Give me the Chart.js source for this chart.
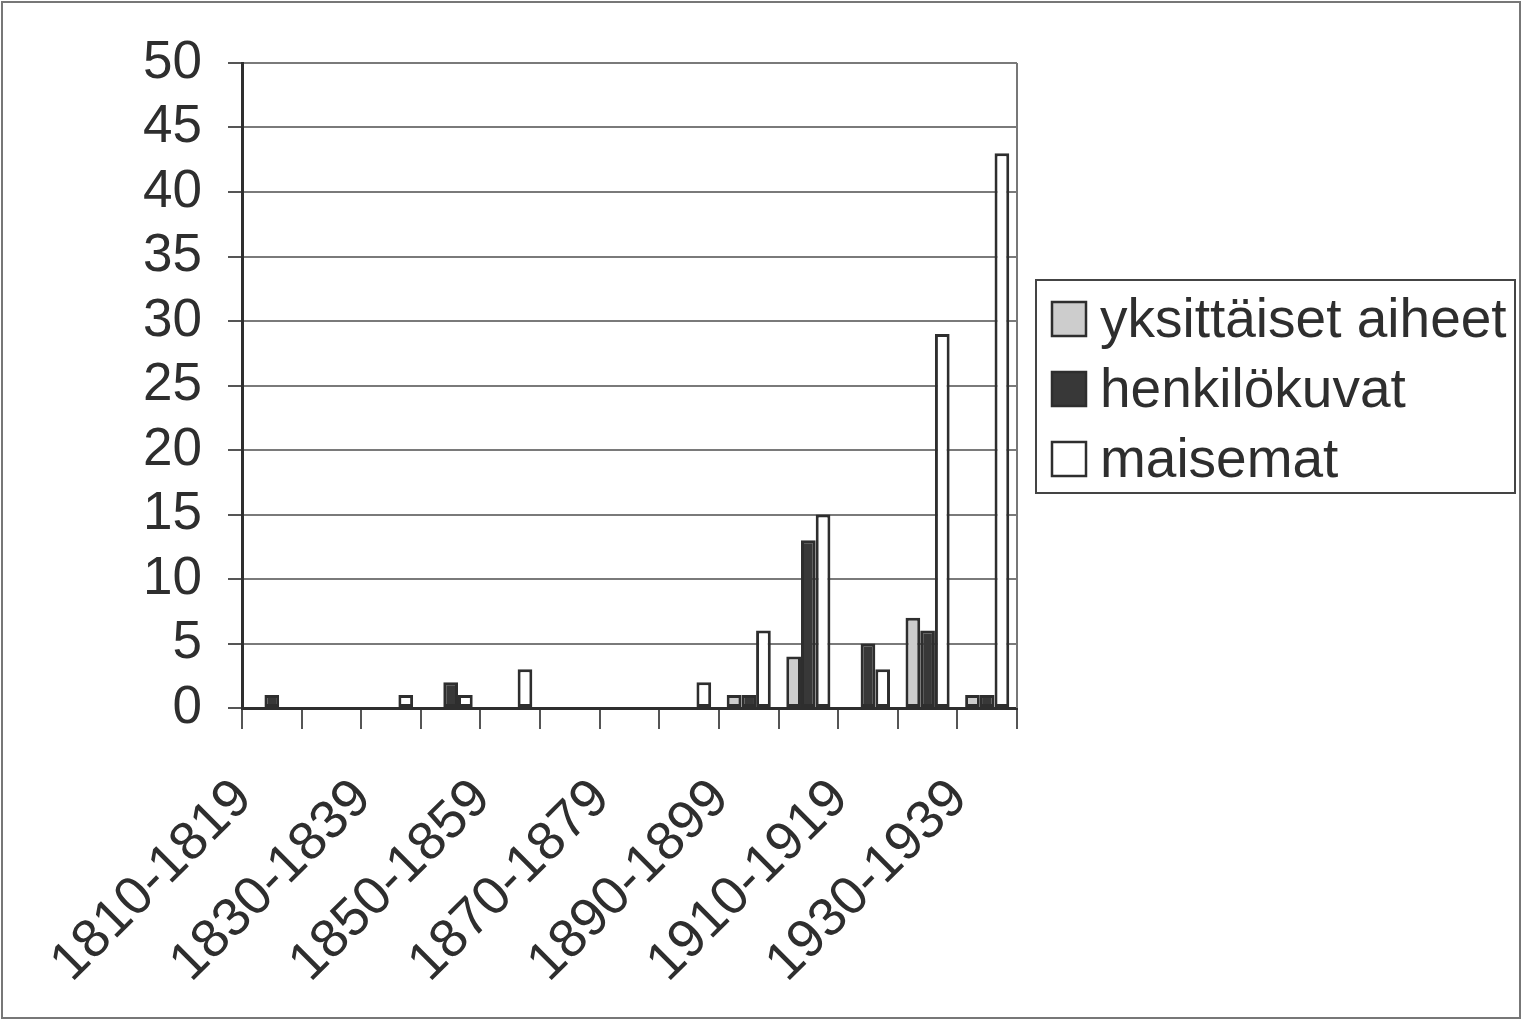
<!DOCTYPE html>
<html>
<head>
<meta charset="utf-8">
<script src="https://cdn.jsdelivr.net/npm/chart.js@4.4.1/dist/chart.umd.min.js"></script>
<style>
  body { margin: 0; background: #fff; }
  #chart { display: block; }
</style>
</head>
<body>
<canvas id="chart" width="1522" height="1020"></canvas>
<script>
var decades = ['1810-1819', '1820-1829', '1830-1839', '1840-1849', '1850-1859', '1860-1869', '1870-1879',
               '1880-1889', '1890-1899', '1900-1909', '1910-1919', '1920-1929', '1930-1939'];
var seriesNames = ['yksittäiset aiheet', 'henkilökuvat', 'maisemat'];
var yksittaiset = [0, 0, 0, 0, 0, 0, 0, 0, 1, 4, 0, 7, 1];
var henkilokuvat = [1, 0, 0, 2, 0, 0, 0, 0, 1, 13, 5, 6, 1];
var maisemat = [0, 0, 1, 1, 3, 0, 0, 2, 6, 15, 3, 29, 43];
var yMin = 0, yMax = 50, yStep = 5;

var ink = '#2e2e2e';
var font = '"Liberation Sans", Arial, Helvetica, sans-serif';

// frame round the picture, right edge of the plot, and the boxed legend
var framePlugin = {
    id: 'frame',
    afterDraw: function (chart) {
        var c = chart.ctx, a = chart.chartArea;
        c.save();
        c.strokeStyle = '#777';
        c.lineWidth = 2;
        c.strokeRect(2, 2, chart.width - 4, chart.height - 4);
        c.beginPath();
        c.moveTo(a.right, a.top);
        c.lineTo(a.right, a.bottom);
        c.stroke();

        // legend
        var lx = a.right + 19, ly = 280, lw = 479, lh = 213;
        c.strokeStyle = '#444';
        c.strokeRect(lx, ly, lw, lh);
        c.font = '55px ' + font;
        c.textBaseline = 'alphabetic';
        chart.data.datasets.forEach(function (ds, i) {
            var sy = ly + 22 + i * 70;
            c.fillStyle = ds.backgroundColor;
            c.fillRect(lx + 16, sy, 34, 34);
            c.strokeStyle = ds.borderColor;
            c.lineWidth = 2.5;
            c.strokeRect(lx + 16, sy, 34, 34);
            c.fillStyle = ink;
            c.fillText(ds.label, lx + 64, sy + 35);
        });
        c.restore();
    }
};

var ctx = document.getElementById('chart').getContext('2d');
var chart = new Chart(ctx, {
    type: 'bar',
    data: {
        labels: decades,
        datasets: [
            { label: seriesNames[0], data: yksittaiset, backgroundColor: '#cdcdcd', borderColor: ink },
            { label: seriesNames[1], data: henkilokuvat, backgroundColor: '#383838', borderColor: ink },
            { label: seriesNames[2], data: maisemat, backgroundColor: '#ffffff', borderColor: ink }
        ]
    },
    options: {
        responsive: false,
        animation: false,
        devicePixelRatio: 1,
        layout: { padding: { top: 63, right: 505, left: 0, bottom: 0 } },
        datasets: {
            bar: { categoryPercentage: 0.74, barPercentage: 1.0, borderWidth: 3, borderSkipped: false }
        },
        plugins: {
            tooltip: { enabled: false },
            legend: { display: false }
        },
        scales: {
            x: {
                afterFit: function (s) { s.height = 312; },
                border: { color: ink, width: 3 },
                grid: { drawOnChartArea: false, offset: true, tickLength: 21, tickColor: '#555', lineWidth: 2 },
                ticks: {
                    autoSkip: false,
                    maxRotation: 45,
                    minRotation: 45,
                    labelOffset: -28,
                    padding: 38,
                    color: ink,
                    font: { family: font, size: 54 },
                    callback: function (v, i) { return i % 2 === 0 ? decades[i] : ''; }
                }
            },
            y: {
                min: yMin,
                max: yMax,
                afterFit: function (s) { s.width = 242; },
                border: { color: ink, width: 3 },
                grid: { color: '#7a7a7a', lineWidth: 2, tickLength: 14, tickColor: '#555' },
                ticks: {
                    stepSize: yStep,
                    autoSkip: false,
                    padding: 26,
                    color: ink,
                    font: { family: font, size: 53 }
                }
            }
        }
    },
    plugins: [framePlugin]
});
</script>
</body>
</html>
